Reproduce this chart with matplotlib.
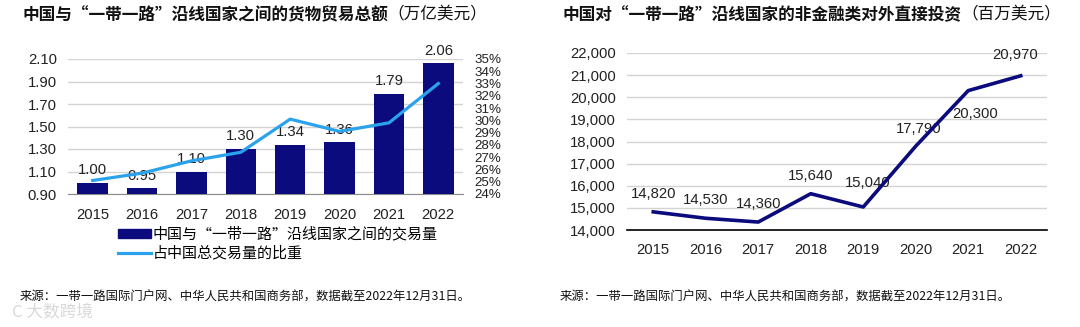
import numpy as np
import matplotlib
matplotlib.use('Agg')
import matplotlib.pyplot as plt
from matplotlib.patches import Patch
from matplotlib.lines import Line2D

plt.rcParams['font.family'] = ['Liberation Sans', 'Noto Sans CJK SC', 'DejaVu Sans']
CJK = ['Noto Sans CJK SC', 'DejaVu Sans']

# data
years = ['2015', '2016', '2017', '2018', '2019', '2020', '2021', '2022']
trade_volume = [1.00, 0.95, 1.10, 1.30, 1.34, 1.36, 1.79, 2.06]      # 万亿美元
trade_share = [25.1, 25.7, 26.7, 27.4, 30.1, 29.1, 29.8, 33.0]       # %
fdi = [14820, 14530, 14360, 15640, 15040, 17790, 20300, 20970]       # 百万美元

left_ticks = [0.90, 1.10, 1.30, 1.50, 1.70, 1.90, 2.10]
pct_ticks = list(range(24, 36))
right_ticks = list(range(14000, 22001, 1000))

title_left = '中国与“一带一路”沿线国家之间的货物贸易总额'
unit_left = '（万亿美元）'
title_right = '中国对“一带一路”沿线国家的非金融类对外直接投资'
unit_right = '（百万美元）'
legend_labels = ['中国与“一带一路”沿线国家之间的交易量', '占中国总交易量的比重']
source = '来源：一带一路国际门户网、中华人民共和国商务部，数据截至2022年12月31日。'

navy = '#0b0b7d'
blue = '#2aa3ec'
grid = '#d4d4d4'

W, H = 1080, 327
fig = plt.figure(figsize=(W / 100, H / 100), dpi=100)

def box(x0, y0, x1, y1):
    return [x0 / W, 1 - y1 / H, (x1 - x0) / W, (y1 - y0) / H]

x = np.arange(len(years))

# ---- left chart: bars + share line
ax = fig.add_axes(box(68, 59, 463, 194))
ax.bar(x, trade_volume, width=0.62, color=navy, zorder=3)
ax.set_ylim(0.90, 2.10)
ax.set_xlim(-0.5, len(years) - 0.5)
ax.set_yticks(left_ticks)
ax.set_yticklabels(['%.2f' % v for v in left_ticks])
ax.set_xticks(x)
ax.set_xticklabels(years)
ax.yaxis.grid(True, color=grid, lw=1, zorder=0)
for s in ['top', 'left', 'right']:
    ax.spines[s].set_visible(False)
ax.spines['bottom'].set_color('#8a8a8a')
ax.tick_params(axis='both', length=0, labelsize=10.7, colors='#222222')
ax.tick_params(axis='y', pad=8)
ax.tick_params(axis='x', pad=10)
for xi, v in zip(x, trade_volume):
    ax.annotate('%.2f' % v, (xi, v), xytext=(0, 4), textcoords='offset points',
                ha='center', va='bottom', fontsize=10.7, color='#222222',
                annotation_clip=False, zorder=5)

ax2 = ax.twinx()
ax2.plot(x, trade_share, color=blue, lw=2.3, zorder=4)
ax2.set_ylim(24, 35)
ax2.set_yticks(pct_ticks)
ax2.set_yticklabels(['%d%%' % p for p in pct_ticks],
                    family=['Liberation Sans Narrow', 'Liberation Sans'])
ax2.tick_params(axis='y', length=0, labelsize=9.6, colors='#222222', pad=8)
for s in ['top', 'left', 'right', 'bottom']:
    ax2.spines[s].set_visible(False)

handles = [Patch(color=navy), Line2D([0], [0], color=blue, lw=2.3)]
fig.legend(handles, legend_labels, loc='upper left', bbox_to_anchor=(112 / W, 1 - 221 / H),
           frameon=False, prop={'family': CJK, 'size': 10.8}, handlelength=2.2,
           handleheight=0.55, handletextpad=0.1, labelspacing=0.28, borderaxespad=0)

# ---- right chart: FDI line
bx = fig.add_axes(box(627, 53, 1047, 230))
bx.plot(x, fdi, color=navy, lw=2.6, zorder=3)
bx.set_ylim(14000, 22000)
bx.set_xlim(-0.5, len(years) - 0.5)
bx.set_yticks(right_ticks)
bx.set_yticklabels(['{:,}'.format(v) for v in right_ticks])
bx.set_xticks(x)
bx.set_xticklabels(years)
bx.yaxis.grid(True, color=grid, lw=1, zorder=0)
for s in ['top', 'left', 'right']:
    bx.spines[s].set_visible(False)
bx.spines['bottom'].set_color('black')
bx.spines['bottom'].set_linewidth(1.2)
bx.tick_params(axis='both', length=0, labelsize=10.7, colors='#222222')
bx.tick_params(axis='y', pad=8)
bx.tick_params(axis='x', pad=9)
offsets = [(0, 8), (0, 8), (0, 8), (0, 8), (3, 12), (2, 7), (5, -22), (-4, 10)]
for xi, v, off in zip(x, fdi, offsets):
    bx.annotate('{:,}'.format(v), (xi, v), xytext=off, textcoords='offset points',
                ha='center', va='bottom', fontsize=10.7, color='#222222',
                annotation_clip=False, zorder=2)

# ---- titles, source, watermark
fig.canvas.draw()
r = fig.canvas.get_renderer()
for tx, main, unit in [(22, title_left, unit_left), (562, title_right, unit_right)]:
    t = fig.text(tx / W, 1 - 15 / H, main, family=CJK, fontsize=12, weight='bold',
                 va='center', ha='left', color='#111111')
    bb = t.get_window_extent(r)
    fig.text(bb.x1 / W, 1 - 15 / H, unit, family=CJK, fontsize=12,
             va='center', ha='left', color='#111111')

fig.text(20 / W, 1 - 297 / H, source, family=CJK, fontsize=8.9, va='center', color='#111111')
fig.text(560 / W, 1 - 297 / H, source, family=CJK, fontsize=8.9, va='center', color='#111111')
fig.text(12 / W, 1 - 313 / H, 'C 大数跨境', family=CJK, fontsize=12, va='center',
         color='#cfcfcf', alpha=0.8)

fig.savefig('out.png', dpi=100)
